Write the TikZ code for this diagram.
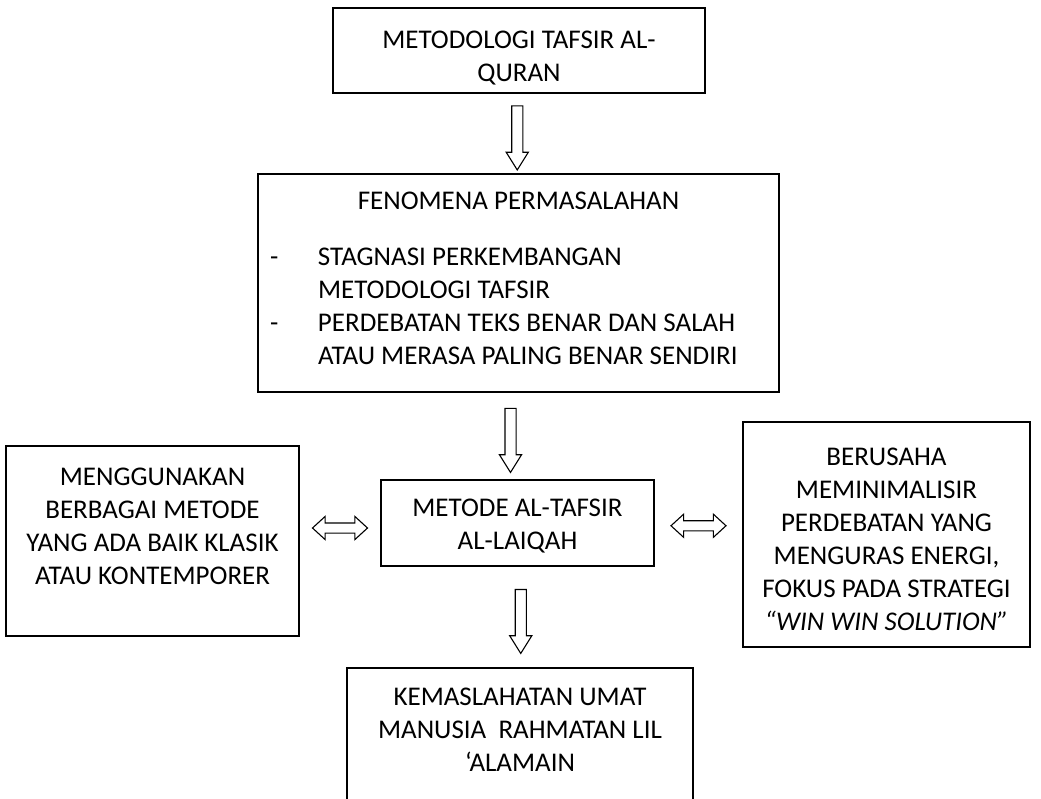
\documentclass[tikz,border=0pt]{standalone}
\usepackage{fontspec}
\setmainfont{Carlito}
\usetikzlibrary{shapes.arrows,calc}

% top gap, height, width, text
\newcommand{\boxtxt}[4]{\parbox[c][#2][t]{#3}{\vspace*{#1}\centering #4}}
\newcommand{\dashitem}{\makebox[58pt][l]{\hspace*{10pt}-}}

\begin{document}
\begin{tikzpicture}[x=1pt, y=-1pt,
	box/.style={draw, line width=1.4pt, inner xsep=2pt, inner ysep=0pt, font=\fontsize{27pt}{33pt}\selectfont},
	down arrow/.style={single arrow, draw, line width=1.1pt, rotate=-90, inner xsep=0pt, inner ysep=5pt,
		single arrow head extend=5.5pt, single arrow tip angle=64, minimum height=64pt},
	both arrow/.style={double arrow, draw, line width=1.1pt, inner xsep=0pt, inner ysep=4.5pt,
		double arrow head extend=6.5pt, double arrow tip angle=85, minimum height=55pt}]
	\useasboundingbox (0,0) rectangle (1041,798);
	\clip (0,0) rectangle (1041,798);
	
	%boxes
	\node[box] (method) at (519,50.5) {\boxtxt{23pt}{85pt}{368pt}{METODOLOGI TAFSIR AL-\\QURAN}};
	\node[box] (problem) at (518.5,283) {\boxtxt{18pt}{218pt}{517pt}{FENOMENA PERMASALAHAN\par\vspace{23pt}\raggedright
		\dashitem STAGNASI PERKEMBANGAN\\
		\hspace*{58pt}METODOLOGI TAFSIR\\
		\dashitem PERDEBATAN TEKS BENAR DAN SALAH\\
		\hspace*{58pt}ATAU MERASA PALING BENAR SENDIRI}};
	\node[box] (laiqah) at (517.5,523) {\boxtxt{19pt}{86pt}{269pt}{METODE AL-TAFSIR\\AL-LAIQAH}};
	\node[box] (variety) at (152.5,541) {\boxtxt{22pt}{190pt}{289pt}{MENGGUNAKAN\\BERBAGAI METODE\\YANG ADA BAIK KLASIK\\ATAU KONTEMPORER}};
	\node[box] (minimize) at (886.5,534.5) {\boxtxt{26pt}{225pt}{283pt}{BERUSAHA\\MEMINIMALISIR\\PERDEBATAN YANG\\MENGURAS ENERGI,\\FOKUS PADA STRATEGI\\\textit{“WIN WIN SOLUTION”}}};
	\node[box] (benefit) at (520,743) {\boxtxt{20pt}{150pt}{342pt}{KEMASLAHATAN UMAT\\MANUSIA\ \ RAHMATAN LIL\\‘ALAMAIN}};
	
	%arrows
	\node[down arrow, yshift=-1.5pt] (arr1) at ($(method.south)!0.5!(problem.north)$) {};
	\node[down arrow, yshift=-7.5pt] (arr2) at ($(problem.south)!0.5!(laiqah.north)$) {};
	\node[down arrow, yshift=2pt] (arr3) at ($(laiqah.south)!0.5!(benefit.north)$) {};
	\node[both arrow, yshift=4pt] (arr4) at ($(variety.east)!0.5!(laiqah.west)$) {};
	\node[both arrow, yshift=3pt] (arr5) at ($(laiqah.east)!0.5!(minimize.west)$) {};
\end{tikzpicture}
\end{document}
